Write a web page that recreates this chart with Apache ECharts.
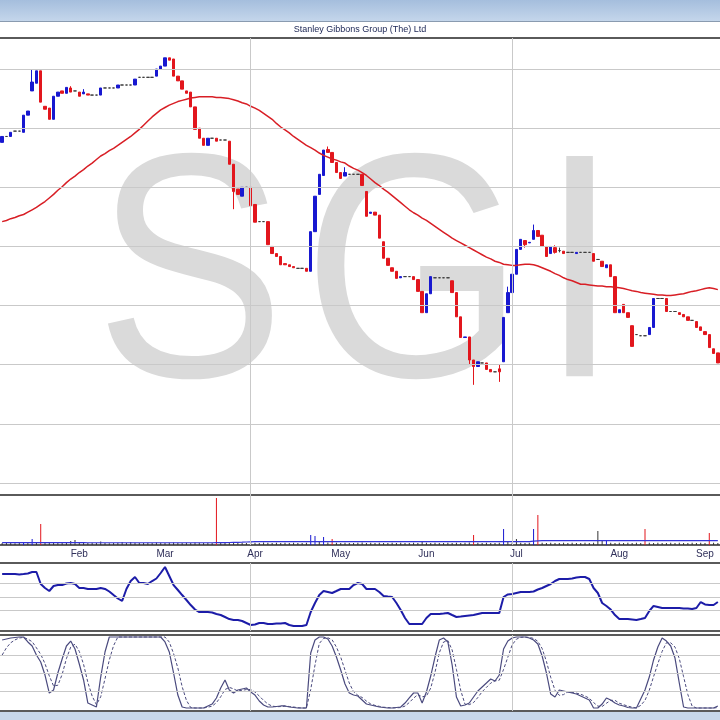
<!DOCTYPE html>
<html><head><meta charset="utf-8">
<script src="https://cdn.jsdelivr.net/npm/echarts@6/dist/echarts.min.js"></script>
<style>html,body{margin:0;padding:0;background:#fff}#c{width:720px;height:720px}</style>
</head><body><div id="c"></div>
<script>
const chartTitle = 'Stanley Gibbons Group (The) Ltd';
const watermark = ['S', 'G', 'I'];
const monthNames = ['Feb', 'Mar', 'Apr', 'May', 'Jun', 'Jul', 'Aug', 'Sep'];
const monthLabelIdx = [18, 38, 59, 79, 99, 120, 144, 164];
const quarterLineIdx = [58, 119];
const priceGridLevels = [60, 70, 80, 90, 100, 110, 120, 130];
const rsiLevels = [30, 50, 70];
const stochLevels = [25, 50, 75];

// [open, close, low, high]
const candles = [
[117.6,118.6,117.6,118.6],[118.6,118.6,118.6,118.6],[118.6,119.3,118.6,119.3],[119.5,119.5,119.5,119.5],[119.5,119.5,119.5,119.5],
[119.3,122.2,119.3,122.2],[122.2,122.9,122.2,122.9],[126.3,127.8,126.3,130.0],[127.6,129.7,127.6,129.7],[129.7,124.4,124.4,129.7],
[123.7,123.2,123.2,123.7],[123.4,121.5,121.5,123.4],[121.5,125.4,121.5,125.4],[125.4,126.1,125.4,126.1],[126.3,125.9,125.9,126.3],
[125.9,126.9,125.9,126.9],[126.8,126.1,126.1,127.1],[126.3,126.3,126.3,126.3],[126.1,125.4,125.4,126.1],[125.8,126.1,125.8,126.6],
[125.8,125.6,125.6,125.8],[125.6,125.6,125.6,125.6],[125.6,125.6,125.6,125.6],[125.6,126.8,125.6,126.8],[126.8,126.8,126.8,126.8],
[126.8,126.8,126.8,126.8],[126.8,126.8,126.8,126.8],[126.8,127.3,126.8,127.3],[127.3,127.3,127.3,127.3],[127.3,127.3,127.3,127.3],
[127.3,127.3,127.3,127.3],[127.3,128.3,127.3,128.3],[128.6,128.6,128.6,128.6],[128.6,128.6,128.6,128.6],[128.6,128.6,128.6,128.6],
[128.6,128.6,128.6,128.6],[128.8,130.0,128.8,130.0],[130.0,130.5,130.0,130.5],[130.5,131.9,130.5,131.9],[131.9,131.5,131.5,131.9],
[131.7,128.8,128.8,131.7],[128.8,128.0,128.0,128.8],[128.0,126.6,126.6,128.0],[126.3,125.9,125.9,126.3],[126.1,123.6,123.6,126.1],
[123.6,119.8,119.8,123.6],[120.0,118.3,118.3,120.0],[118.3,117.1,117.1,118.3],[117.1,118.3,117.1,118.3],[118.3,118.3,118.3,118.3],
[118.3,117.8,117.8,118.3],[118.0,118.0,118.0,118.0],[118.0,118.0,118.0,118.0],[117.8,113.9,113.9,117.8],[113.9,109.3,106.3,113.9],
[109.7,108.8,108.8,109.7],[108.5,110.0,108.5,110.0],[110.0,110.0,110.0,110.0],[110.0,106.9,106.9,110.0],[107.1,104.1,104.1,107.1],
[104.2,104.2,104.2,104.2],[104.2,104.2,104.2,104.2],[104.2,100.3,100.3,104.2],[100.0,98.8,98.8,100.0],[98.8,98.3,98.3,98.8],
[98.3,96.9,96.9,98.3],[97.1,96.9,96.9,97.1],[96.9,96.6,96.6,96.9],[96.6,96.4,96.4,96.6],[96.3,96.3,96.3,96.3],
[96.3,96.3,96.3,96.3],[96.3,95.8,95.8,96.3],[95.8,102.5,95.8,102.5],[102.5,108.5,102.5,108.5],[108.8,112.2,108.8,112.2],
[112.0,116.3,112.0,116.3],[116.4,115.9,115.9,116.9],[115.9,114.2,114.2,115.9],[114.2,112.5,112.5,114.2],[112.5,111.5,111.5,112.5],
[111.9,112.5,111.9,113.4],[112.2,112.2,112.2,112.2],[112.2,112.2,112.2,112.2],[112.2,112.2,112.2,112.2],[112.2,110.3,110.3,112.2],
[109.3,105.1,105.1,109.3],[105.6,105.8,105.6,105.8],[105.8,105.3,105.3,105.8],[105.3,101.4,101.4,105.3],[100.8,98.0,98.0,100.8],
[98.0,96.8,96.8,98.0],[96.4,95.8,95.8,96.4],[95.8,94.6,94.6,95.8],[94.7,94.9,94.7,94.9],[94.9,94.9,94.9,94.9],
[94.9,94.9,94.9,94.9],[94.9,94.4,94.4,94.9],[94.4,92.4,92.4,94.4],[92.4,88.8,88.8,92.4],[88.8,92.0,88.8,92.0],
[92.0,94.9,92.0,94.9],[94.7,94.7,94.7,94.7],[94.7,94.7,94.7,94.7],[94.7,94.7,94.7,94.7],[94.7,94.7,94.7,94.7],
[94.2,92.2,92.2,94.2],[92.2,88.1,88.1,92.2],[88.1,84.6,84.6,88.1],[84.6,84.7,84.6,84.7],[84.7,80.8,80.0,84.7],
[80.8,79.7,76.6,80.8],[79.7,80.5,79.7,80.5],[80.3,80.3,80.3,80.3],[80.3,79.2,79.2,80.3],[79.2,78.8,78.8,79.2],
[78.8,78.8,78.8,78.8],[79.3,78.8,77.1,80.0],[80.5,88.0,80.5,88.0],[88.8,92.2,88.8,93.2],[92.2,95.3,92.2,95.3],
[95.3,99.5,95.3,99.5],[99.5,101.2,99.5,101.2],[101.0,100.3,99.8,101.0],[100.6,100.7,100.6,100.7],[101.2,102.7,101.2,103.7],
[102.7,101.7,101.7,102.7],[101.9,100.0,100.0,101.9],[100.0,98.3,98.3,100.0],[98.8,100.0,98.8,100.0],[99.8,99.0,98.8,100.2],
[99.3,99.3,99.0,99.8],[99.2,98.8,98.8,99.2],[99.0,99.0,99.0,99.0],[99.0,99.0,99.0,99.0],[98.8,99.0,98.8,99.0],
[99.0,99.0,99.0,99.0],[99.0,99.0,99.0,99.0],[99.0,99.0,99.0,99.0],[98.8,97.5,97.5,98.8],[97.8,97.8,97.8,97.8],
[97.5,96.6,96.6,97.5],[96.4,96.9,96.4,96.9],[96.9,94.9,94.9,96.9],[94.9,88.8,88.8,94.9],[88.8,89.3,88.8,89.3],
[90.2,88.8,88.8,90.2],[88.8,88.0,88.0,88.8],[86.6,83.1,83.1,86.6],[85.1,85.1,85.1,85.1],[84.9,84.9,84.9,84.9],
[84.9,84.9,84.9,84.9],[85.1,86.3,85.1,86.3],[86.3,91.2,86.3,91.2],[91.2,91.2,91.2,91.2],[91.2,91.2,91.2,91.2],
[91.2,89.0,89.0,91.2],[89.0,89.0,89.0,89.0],[89.0,89.0,89.0,89.0],[88.8,88.5,88.5,88.8],[88.5,88.1,88.1,88.5],
[88.1,87.5,87.5,88.1],[87.5,87.5,87.5,87.5],[87.3,86.3,86.3,87.3],[86.4,85.8,85.8,86.4],[85.6,85.1,85.1,85.6],
[85.1,82.9,82.9,85.1],[82.7,81.9,81.9,82.7],[82.0,80.3,80.3,82.0]
];

const movingAvg = [
104.2,104.4,104.7,104.9,105.2,105.4,105.8,106.2,106.6,107.1,
107.6,108.2,108.8,109.5,110.1,110.8,111.4,111.9,112.5,113.0,
113.6,114.1,114.7,115.3,115.7,116.2,116.6,117.1,117.6,118.1,
118.6,119.2,119.8,120.5,121.2,121.9,122.5,123.1,123.5,123.9,
124.2,124.5,124.7,124.9,125.1,125.2,125.3,125.3,125.3,125.3,
125.2,125.2,125.1,125.0,124.8,124.6,124.3,124.1,123.7,123.4,
123.0,122.5,122.0,121.5,120.8,120.2,119.7,119.2,118.6,118.1,
117.6,117.1,116.7,116.3,115.8,115.4,115.1,114.8,114.6,114.3,
114.1,113.6,113.2,112.9,112.5,112.0,111.4,110.8,110.3,109.7,
109.2,108.6,108.0,107.4,106.8,106.2,105.7,105.3,104.8,104.4,
103.9,103.4,102.9,102.4,101.9,101.4,101.0,100.6,100.2,99.8,
99.4,99.0,98.6,98.2,97.9,97.5,97.3,97.0,96.9,96.8,
96.8,96.9,97.0,97.0,96.9,96.7,96.4,96.1,95.8,95.4,
95.1,94.7,94.4,94.2,93.9,93.6,93.6,93.5,93.4,93.3,
93.3,93.2,93.2,93.1,93.0,92.9,92.7,92.5,92.4,92.2,
92.1,92.0,91.9,91.8,91.8,91.7,91.7,91.8,91.9,92.0,
92.2,92.4,92.5,92.7,92.9,93.0,92.9,92.7
];

const volume = [
40,45,40,35,40,60,45,120,50,420,
45,40,60,40,45,50,80,100,45,40,
40,45,40,70,40,35,40,45,60,40,
60,45,40,40,45,40,50,45,40,45,
50,45,40,45,40,50,45,40,45,40,
940,40,45,50,45,40,45,40,70,45,
40,50,45,40,45,40,45,40,45,40,
40,45,200,180,80,160,50,120,45,40,
45,40,40,45,50,40,45,40,45,40,
40,45,40,45,40,40,45,40,60,45,
40,45,40,40,45,40,45,40,45,50,
200,45,40,45,40,40,45,320,60,45,
120,45,40,45,320,600,45,40,45,40,
40,45,40,45,40,40,45,40,45,280,
80,100,45,40,45,40,45,40,45,40,
320,45,40,45,40,40,45,40,45,40,
40,45,40,45,40,240,45,40
];
const volUpIdx = [5, 7, 72, 73, 75, 117, 124, 141];
const volDownIdx = [9, 50, 77, 110, 125, 150, 165];

const volumeAvg = [
46,46,46,46,46,46,46,46,46,46,
46,46,46,46,46,46,46,46,46,46,
45,45,45,45,45,45,45,45,45,45,
45,45,45,45,45,45,45,45,45,45,
45,45,45,45,45,45,45,45,45,45,
46,47,48,50,52,54,56,60,64,66,
66,66,66,66,66,66,66,66,66,66,
66,66,66,66,66,66,66,66,66,66,
66,66,66,66,66,66,66,66,66,66,
66,66,66,66,66,66,66,66,66,66,
66,66,66,66,66,66,66,66,66,66,
66,66,66,66,66,66,66,66,66,66,
66,66,66,66,76,84,86,86,86,86,
86,86,86,86,86,86,86,86,86,86,
86,86,86,86,86,86,86,86,86,86,
86,86,86,86,86,86,86,86,86,86,
86,86,86,86,86,86,86,86
];

const rsi = [
83.8,83.8,83.8,83.8,83.1,83.8,84.6,86.8,86.8,69.1,
63.2,58.8,66.2,67.6,67.6,69.9,70.6,69.1,63.2,63.2,
61.8,61.8,61.8,63.2,61.8,58.1,52.9,47.8,44.1,61.8,
73.5,79.4,70.6,70.6,69.1,73.5,77.2,85.3,94.1,80.9,
67.6,60.3,52.9,45.6,38.2,31.6,27.9,27.9,27.9,27.2,
25.0,23.5,20.6,17.6,16.2,16.2,14.7,11.8,8.8,9.6,
11.8,11.8,10.3,10.3,11.0,11.0,11.8,8.8,7.4,7.4,
7.4,8.8,27.9,41.2,52.9,58.8,57.4,55.9,58.8,61.8,
61.8,61.8,67.6,70.6,69.1,61.8,61.8,61.8,57.4,51.5,
50.7,50.0,41.2,30.9,19.1,10.3,10.3,10.3,10.3,19.1,
25.0,25.0,25.0,25.7,26.5,23.5,20.6,21.3,22.1,22.8,
23.5,25.0,26.5,26.5,26.5,26.5,26.5,50.0,53.7,54.4,
55.9,57.4,57.4,57.4,58.1,61.0,63.2,66.2,69.1,73.5,
76.5,76.5,76.5,77.2,78.7,79.4,79.4,76.5,63.2,55.9,
41.2,36.8,31.6,23.5,17.6,17.6,17.6,16.9,16.2,17.6,
19.1,29.4,36.8,35.3,33.8,33.8,33.8,33.8,33.8,33.1,
33.1,32.4,33.8,42.6,39.0,38.2,38.2,42.6
];

const stochK = [
95.8,97.2,98.6,99.3,100,100,93.1,87.5,75.0,65.3,
47.2,22.2,26.4,50.0,69.4,87.5,94.4,83.3,62.5,40.3,
8.3,5.6,2.8,44.4,79.2,100,100,100,100,100,
100,100,100,100,100,100,100,100,93.1,79.2,
50.0,19.4,2.8,1.4,1.4,1.4,1.4,1.4,4.2,6.9,
15.3,29.2,40.3,26.4,22.2,26.4,27.8,29.2,23.6,19.4,
11.1,5.6,2.8,2.8,3.5,4.2,4.2,2.8,2.1,1.4,
1.4,1.4,77.8,95.8,100,100,97.2,87.5,72.2,54.2,
34.7,22.2,19.4,18.1,12.5,6.9,5.6,4.2,2.8,2.1,
1.4,1.4,2.1,2.8,8.3,15.3,22.2,22.2,8.3,23.6,
45.8,72.2,95.8,98.6,93.1,61.1,16.7,4.2,5.6,8.3,
16.7,25.0,30.6,36.1,41.7,38.9,47.2,83.3,94.4,98.6,
100,100,100,98.6,95.8,90.3,73.6,50.0,20.8,16.7,
26.4,25.0,23.6,22.2,20.8,18.1,15.3,12.5,1.4,1.4,
6.9,15.3,12.5,8.3,5.6,4.2,2.1,1.4,1.4,13.9,
26.4,44.4,68.1,86.1,98.6,94.4,87.5,70.8,36.1,2.8,
1.4,1.4,1.4,1.4,1.4,1.4,1.4,4.2
];

const stochD = [
75,85,92,96,98.6,99.5,97,93.5,85,76,
63,46,32,33,48,70,86,90,80,62,
37,18,6,17,42,68,88,100,100,100,
100,100,100,100,100,100,100,100,100,93,
77,57,31,12,2,1.4,1.4,1.4,2.5,4,
8.8,17,27,30,28,25,26,27,27,23.6,
18,12,7,4,3.2,3.4,3.9,3.5,2.8,1.8,
1.4,1.4,27,61,91,98,99,96,86,72,
54,36,24,19,16,11,7,5,3.7,2.5,
2,1.6,1.6,2,4,9,15,20,17,18,
29,51,78,93,95,82,55,26,6.5,6,
9,16,24,30,36,39,40,55,72,89,
97,99.5,100,99.5,98,94,84,66,44,26,
19,20,24,23,22,20.5,18,15,9,4,
3.5,8,12,12,8,6,4,2.5,1.5,5,
12,26,45,63,80,92,92,86,70,45,
20,4,1.4,1.4,1.4,1.4,1.4,2
];

const days = candles.map((_, i) => 'D' + i);
const RED = '#e2161d', BLUE = '#1818d0', DOJI = '#3a3a3a';
const GRID_LINE = '#c9c9c9';
const BORDER = '#5a5a5a';
const FONT = '"Liberation Sans", Arial, sans-serif';

const gridLeft = -1.15, gridWidth = 723.24;
const grids = [
  {top: 38, height: 457},
  {top: 495, height: 50},
  {top: 563, height: 68},
  {top: 635, height: 76}
].map(g => Object.assign({left: gridLeft, width: gridWidth, show: false}, g));

function xAx(gi, position, lineColor, lineWidth, labels) {
  return {
    type: 'category', gridIndex: gi, data: days, boundaryGap: true, position,
    axisLine: {show: true, onZero: false, lineStyle: {color: lineColor, width: lineWidth}},
    axisTick: {show: false},
    splitLine: {show: false},
    axisLabel: labels ? {
      show: true, margin: 4, color: '#30305a', fontSize: 10, fontFamily: FONT,
      interval: (i) => monthLabelIdx.includes(i),
      formatter: (v, i) => monthNames[monthLabelIdx.indexOf(i)] || ''
    } : {show: false}
  };
}
function yAx(gi, min, max) {
  return {type: 'value', gridIndex: gi, min, max, show: true, axisLine: {show: false}, axisTick: {show: false}, axisLabel: {show: false}, splitLine: {show: false}};
}
function gridMarks(levels) {
  const data = levels.map(v => ({yAxis: v})).concat(quarterLineIdx.map(i => ({xAxis: i})));
  return {silent: true, symbol: 'none', label: {show: false}, animation: false,
    lineStyle: {color: GRID_LINE, width: 1, type: 'solid'}, data};
}

const volData = volume.map((v, i) => ({
  value: v,
  itemStyle: {color: volUpIdx.includes(i) ? BLUE : volDownIdx.includes(i) ? RED : '#333'}
}));

const wmFont = '320px "Liberation Sans"';
const wmStyle = (t) => ({text: t, font: wmFont, fill: '#dadada', verticalAlign: 'middle', align: 'left'});

const chart = echarts.init(document.getElementById('c'), null, {renderer: 'canvas'});
chart.setOption({
  animation: false,
  backgroundColor: '#ffffff',
  title: {
    text: chartTitle, left: 'center', top: 25, padding: 0,
    textStyle: {fontSize: 9, fontWeight: 'normal', color: '#202a58', fontFamily: FONT}
  },
  graphic: [
    {type: 'rect', z: 100, shape: {x: 0, y: 0, width: 720, height: 21},
      style: {fill: new echarts.graphic.LinearGradient(0, 0, 0, 1, [{offset: 0, color: '#a5bedd'}, {offset: 1, color: '#c4d6eb'}])}},
    {type: 'rect', z: 100, shape: {x: 0, y: 21, width: 720, height: 1}, style: {fill: '#8a9bb0'}},
    {type: 'rect', z: 100, shape: {x: 0, y: 712, width: 720, height: 8}, style: {fill: '#c7d7ea'}},
    {type: 'text', z: 0, x: 95, y: 288, scaleX: 0.89, style: wmStyle(watermark[0])},
    {type: 'text', z: 0, x: 303, y: 288, scaleX: 0.89, style: wmStyle(watermark[1])},
    {type: 'text', z: 0, x: 540, y: 288, scaleX: 0.89, style: wmStyle(watermark[2])}
  ],
  grid: grids,
  xAxis: [
    xAx(0, 'bottom', BORDER, 2, false), xAx(0, 'top', BORDER, 2, false),
    xAx(1, 'bottom', '#2a2a2a', 1.5, true), xAx(1, 'top', BORDER, 2, false),
    xAx(2, 'bottom', BORDER, 2, false), xAx(2, 'top', BORDER, 2, false),
    xAx(3, 'bottom', BORDER, 2, false), xAx(3, 'top', BORDER, 2, false)
  ],
  yAxis: [yAx(0, 57.97, 135.25), yAx(1, 0, 1000), yAx(2, 0, 100), yAx(3, -2.78, 102.78)],
  series: [
    {
      type: 'candlestick', xAxisIndex: 0, yAxisIndex: 0, data: candles, barWidth: 3,
      itemStyle: {color: BLUE, color0: RED, borderColor: BLUE, borderColor0: RED, borderColorDoji: DOJI, borderWidth: 1},
      markLine: gridMarks(priceGridLevels)
    },
    {type: 'line', xAxisIndex: 0, yAxisIndex: 0, data: movingAvg, showSymbol: false, symbol: 'none',
      lineStyle: {color: '#d81e25', width: 1.5}, z: 3},
    {type: 'bar', xAxisIndex: 2, yAxisIndex: 1, data: volData, barWidth: 1,
      markLine: gridMarks([])},
    {type: 'line', xAxisIndex: 2, yAxisIndex: 1, data: volumeAvg, showSymbol: false, symbol: 'none',
      lineStyle: {color: '#3434d8', width: 1.2}},
    {type: 'line', xAxisIndex: 4, yAxisIndex: 2, data: rsi, showSymbol: false, symbol: 'none',
      lineStyle: {color: '#1c1ca8', width: 2}, markLine: gridMarks(rsiLevels)},
    {type: 'line', xAxisIndex: 6, yAxisIndex: 3, data: stochK, showSymbol: false, symbol: 'none',
      lineStyle: {color: '#4a4a7e', width: 1.2}, markLine: gridMarks(stochLevels)},
    {type: 'line', xAxisIndex: 6, yAxisIndex: 3, data: stochD, showSymbol: false, symbol: 'none',
      lineStyle: {color: '#4a4a7e', width: 1, type: [3, 2]}}
  ]
});
</script></body></html>
